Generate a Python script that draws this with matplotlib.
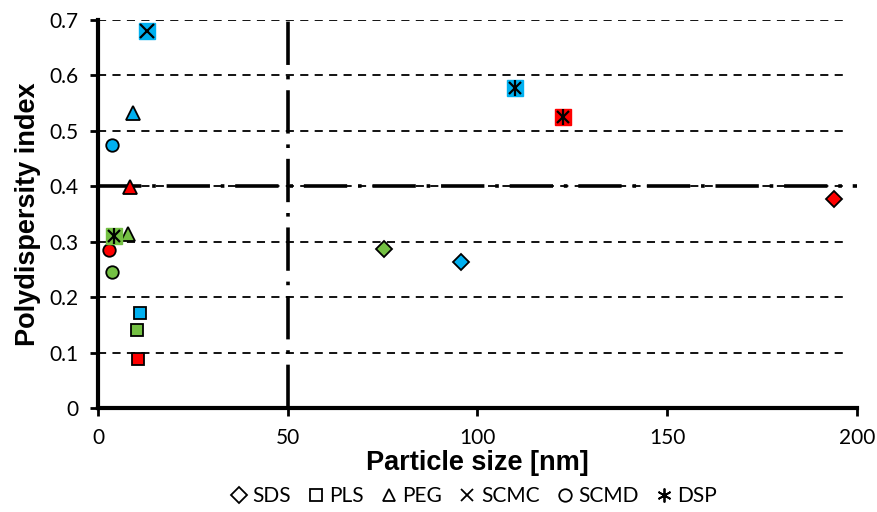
import matplotlib
matplotlib.use("Agg")
import matplotlib.pyplot as plt
from matplotlib.lines import Line2D

# colours used for the three groups
blue = "#00B0F0"
green = "#74C043"
red = "#FF0000"

# data (x = particle size in nm, y = PDI)
sds_x = [75.4, 95.6, 194.0]
sds_y = [0.287, 0.263, 0.377]
sds_c = [green, blue, red]

pls_x = [11.0, 10.3, 10.5]
pls_y = [0.171, 0.140, 0.088]
pls_c = [blue, green, red]

peg_x = [9.2, 8.4, 7.9]
peg_y = [0.532, 0.399, 0.314]
peg_c = [blue, red, green]

scmc_x = [12.9]
scmc_y = [0.680]
scmc_c = [blue]

scmd_x = [3.7, 2.9, 3.7]
scmd_y = [0.474, 0.285, 0.245]
scmd_c = [blue, red, green]

dsp_x = [110.0, 122.5, 4.2]
dsp_y = [0.577, 0.525, 0.310]
dsp_c = [blue, red, green]

x_ticks = [0, 50, 100, 150, 200]
y_ticks = [0, 0.1, 0.2, 0.3, 0.4, 0.5, 0.6, 0.7]
y_ticklabels = ["0", "0.1", "0.2", "0.3", "0.4", "0.5", "0.6", "0.7"]

fig = plt.figure(figsize=(8.77, 5.12), dpi=100)
ax = fig.add_axes([0.1117, 0.203, 0.8653, 0.758])

# dashed grid lines
for yv in y_ticks[1:]:
    ax.axhline(yv, color="black", lw=1.3, ls=(0, (4.5, 3.5)), zorder=1, xmax=0.99)

# threshold lines
ax.axhline(0.4, color="black", lw=2.6, ls=(0, (12, 3, 1, 3)), zorder=2)
ax.axvline(50, color="black", lw=2.6, ls=(0, (12, 3, 1, 3)), zorder=2)

# simple outlined markers
for xs, ys, cs, m, s in [(sds_x, sds_y, sds_c, "D", 8.5),
                         (pls_x, pls_y, pls_c, "s", 8.5),
                         (peg_x, peg_y, peg_c, "^", 9.5),
                         (scmd_x, scmd_y, scmd_c, "o", 9)]:
    for x, y, c in zip(xs, ys, cs):
        ax.plot(x, y, marker=m, ms=s, mfc=c, mec="black", mew=1.3,
                ls="none", zorder=5, clip_on=False)

# square with cross
for x, y, c in zip(scmc_x, scmc_y, scmc_c):
    ax.plot(x, y, marker="s", ms=11, mfc=c, mec=c, ls="none", zorder=5)
    ax.plot(x, y, marker="x", ms=10, mec="black", mew=1.6, ls="none", zorder=6)

# square with asterisk
for x, y, c in zip(dsp_x, dsp_y, dsp_c):
    ax.plot(x, y, marker="s", ms=11, mfc=c, mec=c, ls="none", zorder=5)
    ax.plot(x, y, marker="x", ms=9, mec="black", mew=1.6, ls="none", zorder=6)
    ax.plot(x, y, marker="|", ms=11, mec="black", mew=1.6, ls="none", zorder=6)

ax.set_xlim(0, 200)
ax.set_ylim(0, 0.7)
ax.set_xticks(x_ticks)
ax.set_yticks(y_ticks)
ax.set_yticklabels(y_ticklabels)

for side in ["top", "right"]:
    ax.spines[side].set_visible(False)
for side in ["left", "bottom"]:
    ax.spines[side].set_linewidth(3)
ax.tick_params(axis="both", length=6, width=2, labelsize=15, pad=8)
for lab in ax.get_xticklabels() + ax.get_yticklabels():
    lab.set_family("Lato")

ax.set_xlabel("Particle size [nm]", fontsize=19.5, fontweight="bold",
              family="Liberation Sans", labelpad=2)
ax.set_ylabel("Polydispersity index", fontsize=19.5, fontweight="bold",
              family="Liberation Sans", labelpad=6)

# legend with hollow markers
handles = [
    Line2D([], [], marker="D", ms=8, mfc="white", mec="black", mew=1.3, ls="none"),
    Line2D([], [], marker="s", ms=9, mfc="white", mec="black", mew=1.3, ls="none"),
    Line2D([], [], marker="^", ms=9, mfc="white", mec="black", mew=1.3, ls="none"),
    Line2D([], [], marker="x", ms=9, mec="black", mew=1.3, ls="none"),
    Line2D([], [], marker="o", ms=9, mfc="white", mec="black", mew=1.3, ls="none"),
    Line2D([], [], marker=(6, 2, 0), ms=10, mec="black", mew=1.3, ls="none"),
]
labels = ["SDS", "PLS", "PEG", "SCMC", "SCMD", "DSP"]
fig.legend(handles, labels, loc="lower center", bbox_to_anchor=(0.54, -0.025),
           ncol=6, frameon=False, prop={"family": "Lato", "size": 15},
           handlelength=0.8, handletextpad=0.25, columnspacing=0.8)

fig.savefig("out.png", dpi=100)
